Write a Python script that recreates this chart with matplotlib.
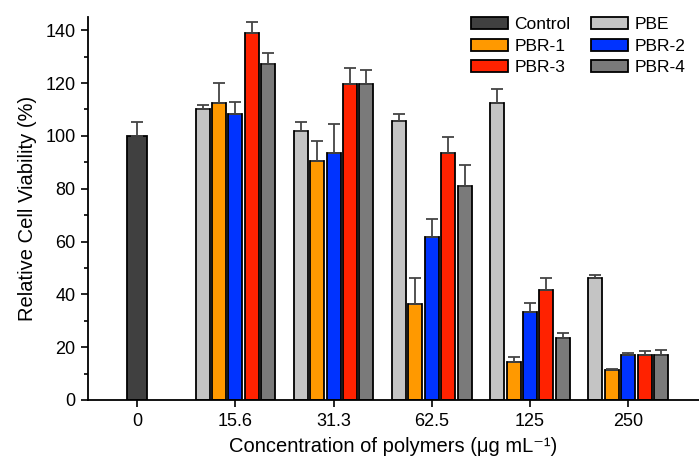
import matplotlib
matplotlib.use("Agg")
import matplotlib.pyplot as plt
import numpy as np
from matplotlib.ticker import MultipleLocator
from matplotlib.patches import Patch

plt.rcParams['font.family'] = ['Liberation Sans', 'DejaVu Sans']

concentrations = ["0", "15.6", "31.3", "62.5", "125", "250"]
series = ["PBE", "PBR-1", "PBR-2", "PBR-3", "PBR-4"]
colors = {"Control": "#404040", "PBE": "#c4c4c4", "PBR-1": "#ff9900",
          "PBR-2": "#0033ff", "PBR-3": "#ff2200", "PBR-4": "#7a7a7a"}

control_value = 100.0
control_err = 5.2

values = {
    "PBE":   [110.3, 101.9, 105.5, 112.3, 46.3],
    "PBR-1": [112.4, 90.3, 36.2, 14.3, 11.4],
    "PBR-2": [108.4, 93.6, 61.8, 33.5, 17.1],
    "PBR-3": [139.1, 119.5, 93.4, 41.5, 17.1],
    "PBR-4": [127.2, 119.8, 81.1, 23.5, 17.1],
}
errors = {
    "PBE":   [1.4, 3.4, 2.7, 5.3, 0.9],
    "PBR-1": [7.5, 7.8, 10.0, 1.8, 0.3],
    "PBR-2": [4.4, 10.8, 6.6, 3.4, 0.6],
    "PBR-3": [4.0, 6.2, 6.0, 4.8, 1.4],
    "PBR-4": [4.3, 5.1, 7.7, 2.0, 1.8],
}

fig = plt.figure(figsize=(6.99, 4.57), dpi=100)
ax = fig.add_axes([88/699, 57/457, 611/699, 383/457])

step = 0.167
width = 0.142
ekw = dict(ecolor="#444444", elinewidth=1.3, capsize=4, capthick=1.3)

ax.bar(0, control_value, width=0.21, color=colors["Control"], edgecolor="black",
       linewidth=1.3, yerr=[[0], [control_err]], error_kw=ekw, zorder=2)

group_x = np.arange(1, len(concentrations))
for i, s in enumerate(series):
    xs = group_x + (i - 2) * step
    ax.bar(xs, values[s], width=width, color=colors[s], edgecolor="black",
           linewidth=1.3, yerr=[np.zeros(len(xs)), errors[s]], error_kw=ekw, zorder=2)

ax.set_xlim(-0.5, 5.72)
ax.set_ylim(0, 145)
ax.set_xticks(np.arange(len(concentrations)))
ax.set_xticklabels(concentrations)
ax.yaxis.set_major_locator(MultipleLocator(20))
ax.yaxis.set_minor_locator(MultipleLocator(10))
ax.tick_params(axis='both', which='major', direction='out', length=5, width=1.2,
               labelsize=13, pad=4)
ax.tick_params(axis='y', which='minor', direction='out', length=3, width=1.2)
for sp in ["top", "right"]:
    ax.spines[sp].set_visible(False)
for sp in ["left", "bottom"]:
    ax.spines[sp].set_linewidth(1.3)

ax.set_xlabel("Concentration of polymers (μg mL⁻¹)", fontsize=14.5, labelpad=5.5)
ax.set_ylabel("Relative Cell Viability (%)", fontsize=14.5, labelpad=6)

order = ["Control", "PBR-1", "PBR-3", "PBE", "PBR-2", "PBR-4"]
handles = [Patch(facecolor=colors[k], edgecolor="black", linewidth=1.3, label=k) for k in order]
ax.legend(handles=handles, ncol=2, frameon=False, fontsize=12.5,
          handlelength=2.13, handleheight=0.7, handletextpad=0.35, columnspacing=1.2,
          labelspacing=0.37, loc="upper right",
          bbox_to_anchor=(692/699, 1 - 10/457), bbox_transform=fig.transFigure,
          borderaxespad=0.0)

fig.savefig("out.png", dpi=100)
